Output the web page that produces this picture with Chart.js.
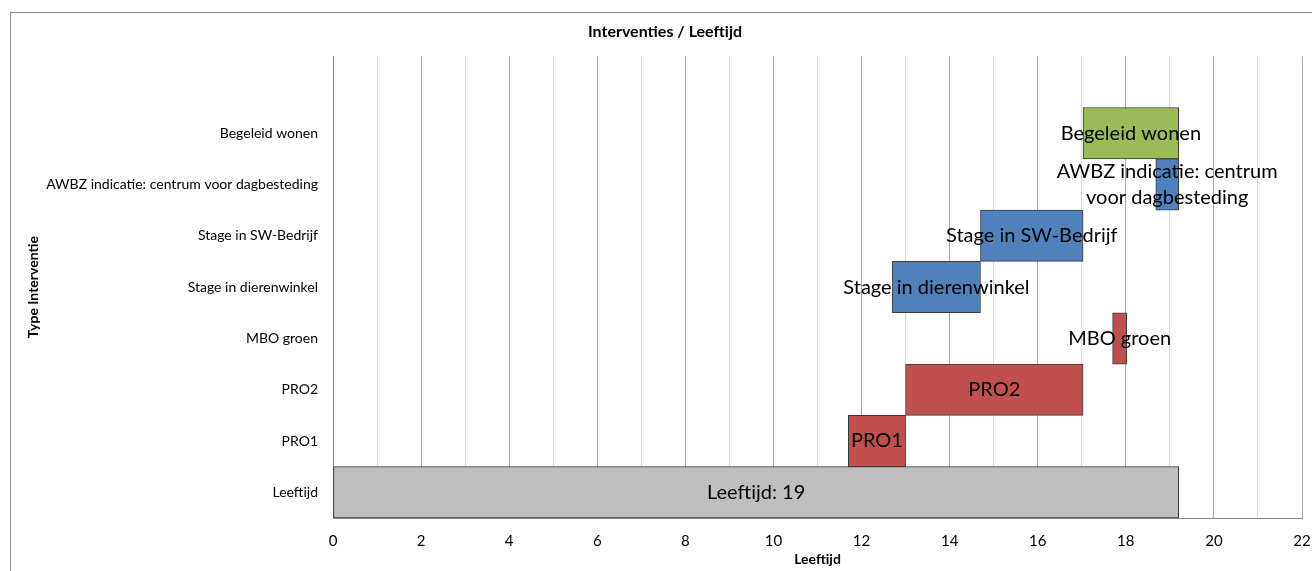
<!DOCTYPE html>
<html>
<head>
<meta charset="utf-8">
<script src="https://cdn.jsdelivr.net/npm/chart.js@4"></script>
<style>
  html, body { margin: 0; padding: 0; background: #fff; }
  #wrap { position: relative; width: 1312px; height: 571px; overflow: hidden; }
  #frame { position: absolute; left: 10px; top: 12px; width: 1400px; height: 700px;
           border-left: 1px solid #8c8c8c; border-top: 1px solid #8c8c8c; }
  canvas { position: absolute; left: 0; top: 0; }
</style>
</head>
<body>
<div id="wrap">
  <div id="frame"></div>
  <canvas id="chart" width="1312" height="571"></canvas>
</div>
<script>
// categories from top to bottom (first one is the empty row Excel leaves on top)
var categories = ['', 'Begeleid wonen', 'AWBZ indicatie: centrum voor dagbesteding', 'Stage in SW-Bedrijf',
  'Stage in dierenwinkel', 'MBO groen', 'PRO2', 'PRO1', 'Leeftijd']
var startAge = [null, 17.03, 18.68, 14.7, 12.7, 17.7, 13.0, 11.7, 0]
var endAge = [null, 19.2, 19.2, 17.03, 14.7, 18.02, 17.03, 13.0, 19.2]
var barLabels = ['', ['Begeleid wonen'], ['AWBZ indicatie: centrum', 'voor dagbesteding'], ['Stage in SW-Bedrijf'],
  ['Stage in dierenwinkel'], ['MBO groen'], ['PRO2'], ['PRO1'], ['Leeftijd: 19']]
var barColors = ['#ffffff', '#9BBB59', '#4F81BD', '#4F81BD', '#4F81BD', '#C0504D', '#C0504D', '#C0504D', '#BFBFBF']

var bars = categories.map(function (c, i) {
  return startAge[i] === null ? null : [startAge[i], endAge[i]]
})

var barText = {
  id: 'barText',
  afterDatasetsDraw(chart) {
    var ctx = chart.ctx
    var meta = chart.getDatasetMeta(0)
    ctx.save()
    ctx.fillStyle = '#000'
    ctx.font = '20px Lato'
    ctx.textAlign = 'center'
    ctx.textBaseline = 'middle'
    meta.data.forEach(function (el, i) {
      var lines = barLabels[i]
      if (!lines || !lines.length) return
      var cx = (el.x + el.base) / 2
      var lh = 26
      var y0 = el.y - (lines.length - 1) * lh / 2
      lines.forEach(function (t, k) { ctx.fillText(t, cx, y0 + k * lh) })
    })
    ctx.restore()
  }
}

var ctx = document.getElementById('chart')
var myChart = new Chart(ctx, {
  type: 'bar',
  data: {
    labels: categories,
    datasets: [{
      data: bars,
      backgroundColor: barColors,
      borderColor: '#3b3b3b',
      borderWidth: 1,
      borderSkipped: false,
      barPercentage: 1,
      categoryPercentage: 1
    }]
  },
  options: {
    indexAxis: 'y',
    responsive: false,
    animation: false,
    layout: { padding: { left: 28, right: 10, top: 0, bottom: 0 } },
    plugins: {
      legend: { display: false },
      tooltip: { enabled: false },
      title: {
        display: true,
        text: 'Interventies / Leeftijd',
        color: '#000',
        font: { family: 'Lato', size: 16, weight: 'bold' },
        padding: { top: 22, bottom: 15 }
      }
    },
    scales: {
      x: {
        type: 'linear',
        min: 0,
        max: 22,
        afterFit: function (scale) {
          scale.height = 53
          scale.paddingLeft = 0
          scale.paddingRight = 0
        },
        ticks: {
          stepSize: 1,
          autoSkip: false,
          maxRotation: 0,
          padding: 14,
          color: '#000',
          font: { family: 'Lato', size: 15 },
          callback: function (v) { return v % 2 === 0 ? String(v) : '' }
        },
        grid: {
          drawTicks: false,
          color: function (c) { return c.tick && c.tick.value % 2 === 0 ? '#a6a6a6' : '#d9d9d9' }
        },
        border: { color: '#868686' },
        title: {
          display: true,
          text: 'Leeftijd',
          color: '#000',
          font: { family: 'Lato', size: 14, weight: 'bold' },
          padding: { top: 0, bottom: 3 }
        }
      },
      y: {
        afterFit: function (scale) { scale.width = 305 },
        ticks: {
          padding: 15,
          color: '#000',
          font: { family: 'Lato', size: 14 }
        },
        grid: { display: false, drawTicks: false },
        border: { display: true, color: '#868686' },
        title: {
          display: true,
          text: 'Type Interventie',
          color: '#000',
          font: { family: 'Lato', size: 14, weight: 'bold' },
          padding: { top: -3, bottom: 0 }
        }
      }
    }
  },
  plugins: [barText]
})
</script>
</body>
</html>
